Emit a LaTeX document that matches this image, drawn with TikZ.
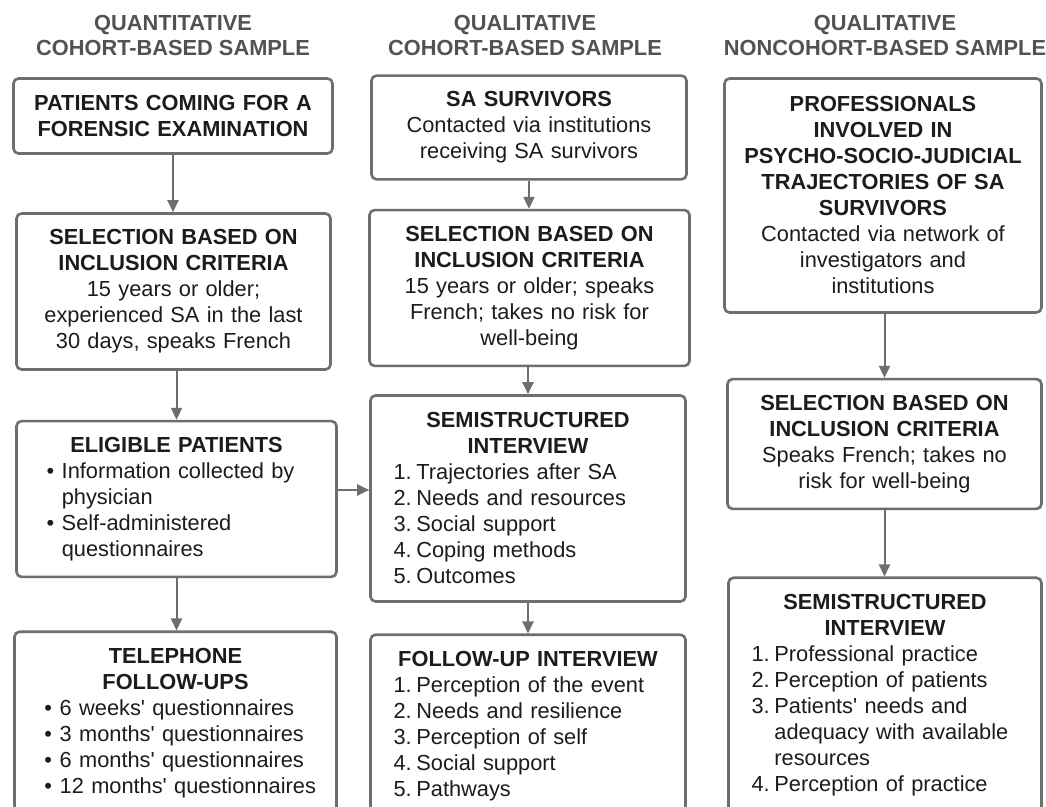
\documentclass[tikz,border=0pt]{standalone}
\usepackage{fontspec}
\setmainfont{Liberation Sans}
\usetikzlibrary{arrows.meta}

\definecolor{boxgray}{HTML}{6E6E6E}
\definecolor{headgray}{HTML}{525252}
\definecolor{textblack}{HTML}{1C1C1C}

\newcommand{\bhead}[1]{{\centering\bfseries #1\par}}
\newcommand{\bline}[1]{{\centering #1\par}}
\newcommand{\nitem}[2]{{\raggedright\leftskip=2.5pt\hangindent=1.05em\hangafter=1\noindent\makebox[1.05em][l]{#1}#2\par}}
\newcommand{\bitem}[1]{{\raggedright\leftskip=6pt\hangindent=0.7em\hangafter=1\noindent\makebox[0.7em][l]{\textbullet}#1\par}}
\newcommand{\sq}{\textquotesingle}

\begin{document}
\begin{tikzpicture}[x=0.5pt,y=-0.5pt,
  stage/.style={draw=boxgray,line width=1.3pt,rounded corners=2.5pt,fill=white,inner xsep=9pt,inner ysep=8pt,text=textblack,font=\fontsize{10.9}{13}\selectfont},
  cutstage/.style={stage,anchor=north,text depth=100pt},
  colhead/.style={align=center,text=headgray,font=\fontsize{10.9}{12.5}\selectfont\bfseries},
  flow/.style={draw=boxgray,line width=1pt,-{Triangle[length=6pt,width=5.5pt]}}]

\useasboundingbox (0,0) rectangle (1046,807);
\clip (0,0) rectangle (1046,807);
\fill[white] (0,0) rectangle (1046,807);

\node[colhead] (head1) at (173,36) {QUANTITATIVE\\COHORT-BASED SAMPLE};
\node[colhead] (head2) at (525,36) {QUALITATIVE\\COHORT-BASED SAMPLE};
\node[colhead] (head3) at (885,36) {QUALITATIVE\\NONCOHORT-BASED SAMPLE};

\node[stage,text width=141.5pt,minimum height=37.5pt] (patients) at (173,116)
  {\bhead{PATIENTS COMING FOR A\\FORENSIC EXAMINATION}};
\node[stage,text width=139pt,minimum height=78pt] (selquant) at (173.5,291.5)
  {\bhead{SELECTION BASED ON\\INCLUSION CRITERIA}\bline{15 years or older;\\experienced SA in the last\\30 days, speaks French}};
\node[stage,text width=142pt,minimum height=74.5pt] (eligible) at (176.5,499)
  {\bhead{ELIGIBLE PATIENTS}\bitem{Information collected by\newline physician}\bitem{Self-administered\newline questionnaires}};
\node[cutstage,text width=143pt] (phone) at (175.5,630.5)
  {\bhead{TELEPHONE\\FOLLOW-UPS}\bitem{6 weeks\sq{} questionnaires}\bitem{3 months\sq{} questionnaires}\bitem{6 months\sq{} questionnaires}\bitem{12 months\sq{} questionnaires}};

\node[stage,text width=139.5pt,minimum height=49pt] (survivors) at (529,127.5)
  {\bhead{SA SURVIVORS}\bline{Contacted via institutions\\receiving SA survivors}};
\node[stage,text width=142pt,minimum height=74.5pt] (selqual) at (529.5,288)
  {\bhead{SELECTION BASED ON\\INCLUSION CRITERIA}\bline{15 years or older; speaks\\French; takes no risk for\\well-being}};
\node[stage,text width=139.5pt,minimum height=103pt] (semiqual) at (528,498.5)
  {\bhead{SEMISTRUCTURED\\INTERVIEW}\nitem{1.}{Trajectories after SA}\nitem{2.}{Needs and resources}\nitem{3.}{Social support}\nitem{4.}{Coping methods}\nitem{5.}{Outcomes}};
\node[cutstage,text width=139.5pt] (followup) at (528,633.5)
  {\bhead{FOLLOW-UP INTERVIEW}\nitem{1.}{Perception of the event}\nitem{2.}{Needs and resilience}\nitem{3.}{Perception of self}\nitem{4.}{Social support}\nitem{5.}{Pathways}};

\node[stage,text width=140.5pt,minimum height=117pt] (profs) at (883,195.5)
  {\bhead{PROFESSIONALS\\INVOLVED IN\\PSYCHO-SOCIO-JUDICIAL\\TRAJECTORIES OF SA\\SURVIVORS}\bline{Contacted via network of\\investigators and\\institutions}};
\node[stage,text width=139pt,minimum height=64.5pt] (selprof) at (884.5,444)
  {\bhead{SELECTION BASED ON\\INCLUSION CRITERIA}\bline{Speaks French; takes no\\risk for well-being}};
\node[cutstage,text width=138.5pt] (semiprof) at (885,576.5)
  {\bhead{SEMISTRUCTURED\\INTERVIEW}\nitem{1.}{Professional practice}\nitem{2.}{Perception of patients}\nitem{3.}{Patients\sq{} needs and\newline adequacy with available\newline resources}\nitem{4.}{Perception of practice}};

\draw[flow] (patients.south) -- (patients.south |- selquant.north);
\draw[flow] (eligible.north |- selquant.south) -- (eligible.north);
\draw[flow] (eligible.south) -- (eligible.south |- phone.north);
\draw[flow] ([yshift=4.5pt]eligible.east) -- ([yshift=4.5pt]eligible.east -| semiqual.west);
\draw[flow] (survivors.south) -- (survivors.south |- selqual.north);
\draw[flow] (semiqual.north |- selqual.south) -- (semiqual.north);
\draw[flow] (semiqual.south) -- (semiqual.south |- followup.north);
\draw[flow] (selprof.north |- profs.south) -- (selprof.north);
\draw[flow] (selprof.south) -- (selprof.south |- semiprof.north);
\end{tikzpicture}
\end{document}
